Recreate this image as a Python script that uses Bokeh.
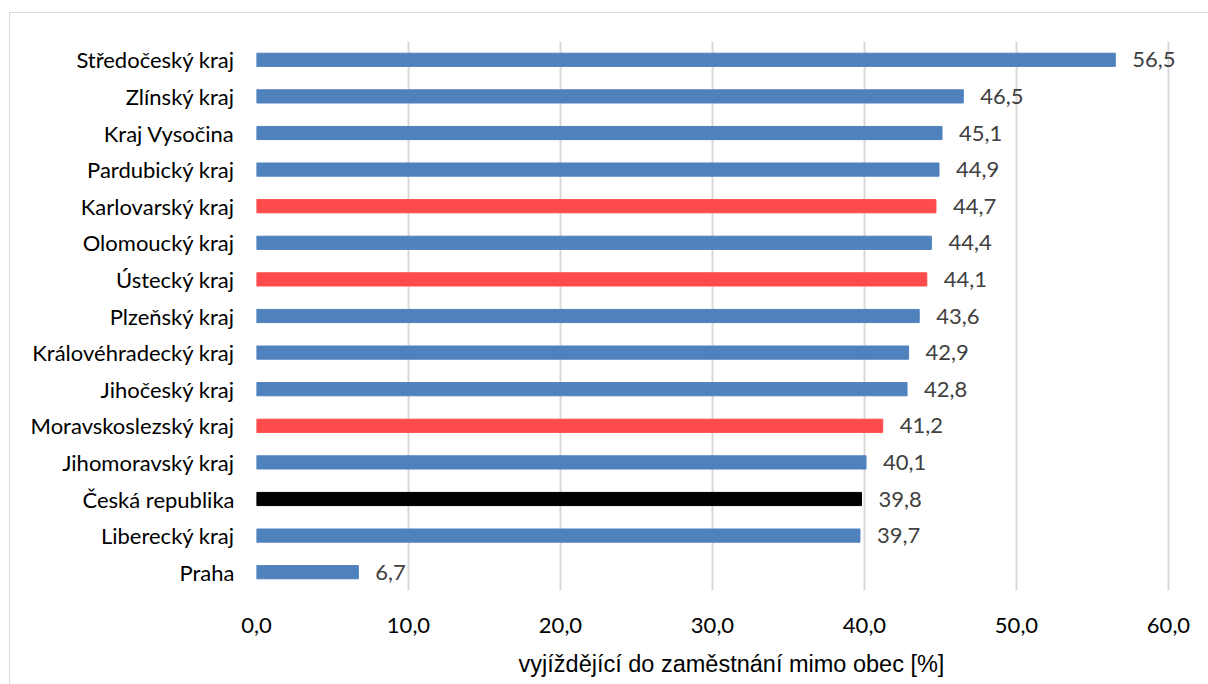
from bokeh.plotting import figure
from bokeh.models import ColumnDataSource, FactorRange, CustomJSTickFormatter, FixedTicker, LabelSet
from bokeh.core.properties import value
from bokeh.embed import file_html
from bokeh.resources import INLINE

categories = ["Středočeský kraj", "Zlínský kraj", "Kraj Vysočina", "Pardubický kraj",
              "Karlovarský kraj", "Olomoucký kraj", "Ústecký kraj", "Plzeňský kraj",
              "Královéhradecký kraj", "Jihočeský kraj", "Moravskoslezský kraj",
              "Jihomoravský kraj", "Česká republika", "Liberecký kraj", "Praha"]
values = [56.5, 46.5, 45.1, 44.9, 44.7, 44.4, 44.1, 43.6, 42.9, 42.8, 41.2, 40.1, 39.8, 39.7, 6.7]
groups = ["other", "other", "other", "other", "highlight", "other", "highlight", "other",
          "other", "other", "highlight", "other", "total", "other", "other"]
x_ticks = [0, 10, 20, 30, 40, 50, 60]
x_title = "vyjíždějící do zaměstnání mimo obec [%]"

color_map = {"other": "#4F81BD", "highlight": "#FF4B4B", "total": "#000000"}
FONT = "Lato"

src = ColumnDataSource(dict(
    cat=categories,
    val=values,
    color=[color_map[g] for g in groups],
    lab=[f"{v:.1f}".replace(".", ",") for v in values],
))

# x range extends a bit past the last tick so value labels are not clipped
p = figure(width=1199, height=672, output_backend="svg", toolbar_location=None,
           y_range=FactorRange(*reversed(categories)), x_range=(0, 62.5),
           min_border_left=246, min_border_right=3, min_border_top=28, min_border_bottom=95)
p.margin = (12, 0, 0, 9)
p.styles = {"border-top": "1px solid #D9D9D9", "border-left": "1px solid #D9D9D9"}
p.outline_line_color = None

p.hbar(y="cat", right="val", left=0, height=0.36, color="color", source=src)
labels = LabelSet(x="val", y="cat", text="lab", source=src, x_offset=17, text_align="left",
                  text_baseline="middle", text_font=value(FONT), text_font_size=value("22px"),
                  text_color=value("#404040"))
p.add_layout(labels)

p.xaxis.ticker = FixedTicker(ticks=x_ticks)
p.xaxis.formatter = CustomJSTickFormatter(code="return tick.toFixed(1).replace('.', ',');")
p.xaxis.axis_line_color = None
p.xaxis.major_tick_line_color = None
p.xaxis.minor_tick_line_color = None
p.xaxis.major_label_standoff = 21
p.xaxis.major_label_text_font = FONT
p.xaxis.major_label_text_font_size = "22px"
p.xaxis.major_label_text_color = "#000000"
p.xaxis.axis_label = x_title
p.xaxis.axis_label_text_font = "Liberation Sans"
p.xaxis.axis_label_text_font_size = "23.5px"
p.xaxis.axis_label_text_font_style = "normal"
p.xaxis.axis_label_text_color = "#000000"
p.xaxis.axis_label_standoff = 15

p.yaxis.axis_line_color = None
p.yaxis.major_tick_line_color = None
p.yaxis.major_tick_out = 0
p.yaxis.major_label_standoff = 22
p.yaxis.major_label_text_font = FONT
p.yaxis.major_label_text_font_size = "22px"
p.yaxis.major_label_text_color = "#000000"

p.xgrid.grid_line_color = "#D9D9D9"
p.xgrid.grid_line_width = 2
p.ygrid.grid_line_color = None

open("out.html", "w").write(file_html(p, INLINE))
